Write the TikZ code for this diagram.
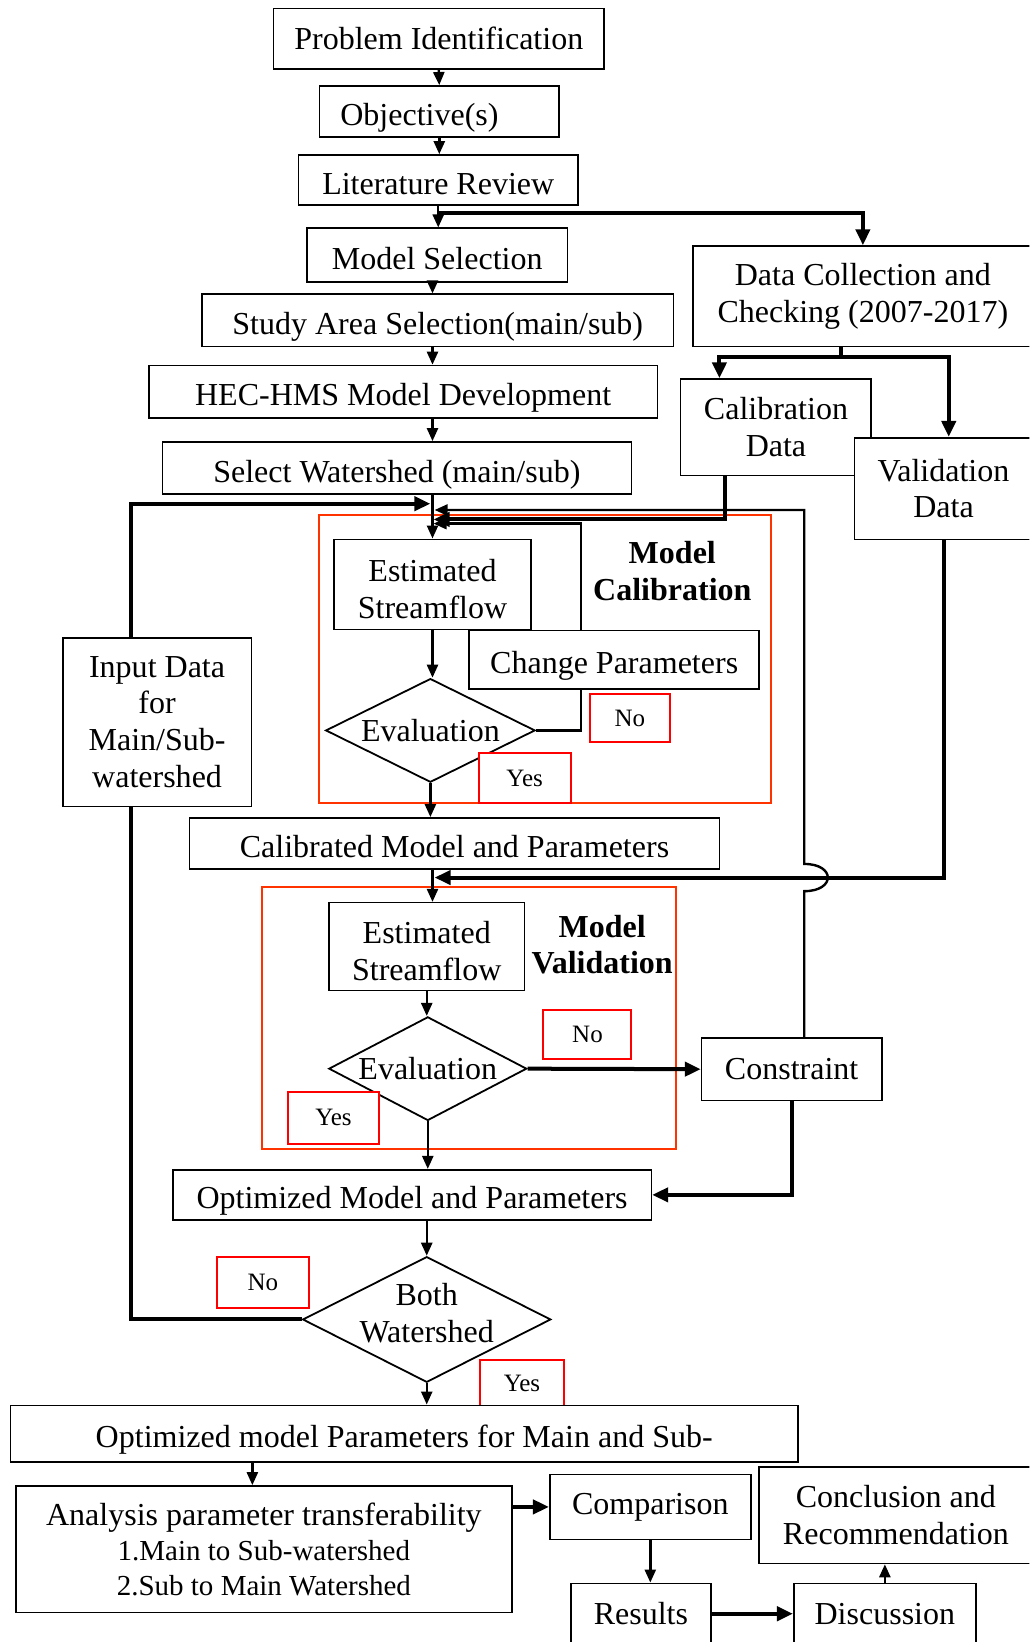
\documentclass[tikz,border=0pt]{standalone}
\usepackage{fontspec}
\setmainfont{Liberation Serif}
\usetikzlibrary{arrows.meta,shapes.geometric,calc}
\definecolor{framered}{RGB}{255,51,0}
\definecolor{labelred}{RGB}{255,0,0}
\newcommand{\px}{0.5234pt}

\begin{document}
\begin{tikzpicture}[x=\px, y=-\px, >={Triangle[length=6.5pt,width=5.5pt]}]
            \tikzstyle{every node} = [font=\fontsize{16}{18.4}\selectfont]
            \tikzstyle{stage} = [draw, line width=0.8pt, fill=white, inner sep=0pt, align=center]
            \tikzstyle{lowtext} = [text height=14pt, text depth=0pt]
            \tikzstyle{decision} = [diamond, draw, line width=0.9pt, fill=white, inner sep=-5pt, shape aspect=2, align=center]
            \tikzstyle{flag} = [draw=labelred, line width=1pt, fill=white, inner sep=0pt, font=\fontsize{12.5}{14}\selectfont]
            \tikzstyle{redframe} = [draw=framered, line width=1pt, inner sep=0pt]
            \tikzstyle{head} = [align=center, font=\bfseries\fontsize{16}{18.4}\selectfont]
            \tikzstyle{link} = [line width=1.2pt]
            \tikzstyle{boldlink} = [line width=2pt, >={Triangle[length=8pt,width=7pt]}]
            \tikzset{sz/.style 2 args={minimum width=#1*\px, minimum height=#2*\px}}
            \useasboundingbox (0,0) rectangle (983,1568);
            \clip (0,0) rectangle (983,1568);

            \node[redframe, sz={431}{275}] (calframe) at (520.5,629.5) {};
            \node[redframe, sz={396}{250}] (valframe) at (448,972) {};

            \node[stage, sz={316}{58}] (prob) at (419,37) {Problem Identification};
            \node[stage, lowtext, sz={229}{49}, text width=189*\px, align=left, inner xsep=20*\px] (obj) at (419.5,106.5) {Objective(s)};
            \node[stage, lowtext, sz={267}{48}] (lit) at (418.5,172) {Literature Review};
            \node[stage, lowtext, sz={249}{51}] (msel) at (417.5,243.5) {Model Selection};
            \node[stage, lowtext, sz={450}{50}] (study) at (418,306) {Study Area Selection(main/sub)};
            \node[stage, lowtext, sz={486}{50}] (hec) at (385,374) {HEC-HMS Model Development};
            \node[stage, lowtext, sz={448}{50}] (selws) at (379,447) {Select Watershed (main/sub)};
            \node[stage, sz={324}{96}] (datac) at (824,283) {Data Collection and\\Checking (2007-2017)};
            \node[stage, sz={182}{92}] (caldat) at (741,408) {Calibration\\Data};
            \node[stage, sz={170}{97}] (valdat) at (901,466.5) {Validation\\Data};
            \node[stage, sz={180}{161}] (input) at (150,689.5) {Input Data\\for\\Main/Sub-\\watershed};

            \node[stage, sz={188}{86}] (estc) at (413,558) {\rule{0pt}{15.5pt}Estimated\\Streamflow};
            \node[head] (calhead) at (642,545) {Model\\Calibration};
            \node[stage, lowtext, sz={277}{56}] (chpar) at (586.5,630) {Change Parameters};
            \node[decision, sz={200}{99}] (evalc) at (411,697.5) {Evaluation};
            \node[flag, sz={77}{46}] (noc) at (601.5,686) {No};
            \node[flag, sz={88}{48}] (yesc) at (501,743) {Yes};
            \node[stage, lowtext, sz={506}{49}] (calmod) at (434,805.5) {Calibrated Model and Parameters};

            \node[stage, sz={187}{84}] (estv) at (407.5,904) {\rule{0pt}{15.5pt}Estimated\\Streamflow};
            \node[head] (valhead) at (575,902) {Model\\Validation};
            \node[decision, sz={189}{99}] (evalv) at (408.5,1020.5) {Evaluation};
            \node[flag, sz={84}{47}] (nov) at (561,987.5) {No};
            \node[flag, sz={87}{49}] (yesv) at (318.5,1067.5) {Yes};
            \node[stage, sz={172}{60}] (constr) at (756,1021) {Constraint};
            \node[stage, lowtext, sz={457}{48}] (optmod) at (393.5,1141) {Optimized Model and Parameters};

            \node[decision, sz={237}{120}] (both) at (407.5,1260) {Both\\Watershed\rule[-6.3pt]{0pt}{0pt}};
            \node[flag, sz={88}{49}] (nob) at (251,1224.5) {No};
            \node[flag, sz={81}{45}] (yesb) at (498.5,1321.5) {Yes};
            \node[stage, lowtext, sz={752}{54}] (optall) at (386,1369) {Optimized model Parameters for Main and Sub-};
            \node[stage, sz={474}{121}, font=\fontsize{16}{17.5}\selectfont] (anal) at (252,1479.5) {Analysis parameter transferability\\{\fontsize{14.5}{17.5}\selectfont 1.Main to Sub-watershed}\\{\fontsize{14.5}{17.5}\selectfont 2.Sub to Main Watershed}};
            \node[stage, sz={192}{62}] (comp) at (621,1439) {Comparison};
            \node[stage, sz={134}{58}] (results) at (612,1541) {Results};
            \node[stage, sz={174}{58}] (disc) at (845,1541) {Discussion};
            \node[stage, sz={261}{92}] (concl) at (855.5,1447) {Conclusion and\\Recommendation};

            \coordinate (ax) at (413,0);
            \coordinate (lsplit) at (418,203);
            \coordinate (dsplit) at (803,341);
            \coordinate (cdn) at (687,341);
            \coordinate (vdn) at (906,341);
            \coordinate (inx) at (125,0);
            \coordinate (cdx) at (692,0);
            \coordinate (cpx) at (555,0);
            \coordinate (tinp) at (411,481);
            \coordinate (tcon) at (415,487);
            \coordinate (tcal) at (414,496);
            \coordinate (tchp) at (414,500);
            \coordinate (hop) at (768,838);
            \coordinate (tval) at (415,838);
            \coordinate (ox) at (241,0);

            \draw[link, ->] (prob.south) -- (obj.north);
            \draw[link, ->] (obj.south) -- (obj.south |- lit.north);
            \draw[link, ->] (lit.south) -- (lit.south |- msel.north);
            \draw[boldlink, ->] (lsplit) -| (datac.north);
            \draw[link, ->] (ax |- msel.south) -- (ax |- study.north);
            \draw[link, ->] (ax |- study.south) -- (ax |- hec.north);
            \draw[link, ->] (ax |- hec.south) -- (ax |- selws.north);
            \draw[link, ->] (ax |- selws.south) -- (estc.north);
            \draw[boldlink] (dsplit |- datac.south) -- (dsplit);
            \draw[boldlink, ->] (dsplit) -| (cdn |- caldat.north);
            \draw[boldlink, ->] (dsplit) -| (vdn |- valdat.north);

            \draw[boldlink, ->] (inx |- input.north) |- (tinp);
            \draw[boldlink, ->] (cdx |- caldat.south) |- (tcal);
            \draw[link, ->] (cpx |- chpar.north) |- (tchp);
            \draw[link] (evalc.east) -| (cpx |- chpar.south);
            \draw[link, ->] (estc.south) -- (estc.south |- evalc.north);
            \draw[link, ->] (evalc.south) -- (evalc.south |- calmod.north);

            \draw[boldlink, ->] (valdat.south) |- (tval);
            \draw[link, ->] (constr.north -| hop) -- ($(hop)+(0,13)$) .. controls +(30,0) and +(30,0) .. ($(hop)+(0,-13)$) -- (hop |- tcon) -- (tcon);
            \draw[link, ->] (ax |- calmod.south) -- (ax |- estv.north);
            \draw[link, ->] (estv.south) -- (estv.south |- evalv.north);
            \draw[boldlink, ->] (evalv.east) -- (constr.west);
            \draw[link, ->] (evalv.south) -- (evalv.south |- optmod.north);
            \draw[boldlink, ->] (constr.south) |- (optmod.east);
            \draw[link, ->] (both.north |- optmod.south) -- (both.north);
            \draw[boldlink] (both.west) -| (inx |- input.south);
            \draw[link, ->] (both.south) -- (both.south |- optall.north);

            \draw[link, ->] (ox |- optall.south) -- (ox |- anal.north);
            \draw[boldlink, ->] (comp.west -| anal.east) -- (comp.west);
            \draw[link, ->] (comp.south) -- (comp.south |- results.north);
            \draw[boldlink, ->] (results.east) -- (disc.west);
            \draw[link, ->] (disc.north) -- (disc.north |- concl.south);
        \end{tikzpicture}
\end{document}
